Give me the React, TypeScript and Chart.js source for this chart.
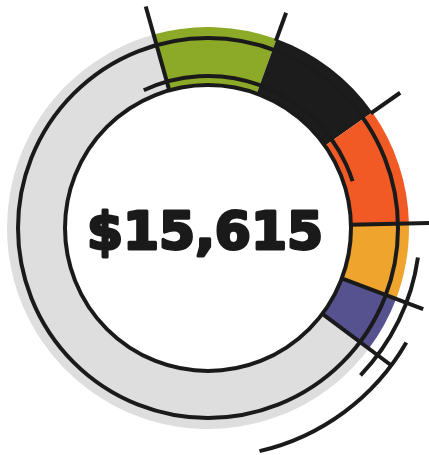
import React, { useEffect, useRef } from "react";
import { Chart, registerables } from "chart.js";

Chart.register(...registerables);

// ---- data ----
const categories = ["Green", "Black", "Red", "Orange", "Purple", "Remaining"];
const values = [9.9, 9.7, 9.4, 6.1, 4.5, 60.4];
const colors = ["#8da928", "#1c1c1c", "#f15a24", "#eea42d", "#55528f", "#dedede"];
const centerLabel = "$15,615";
const startDeg = -15.7;

// decorative ray extents (beyond the outer edge) for each segment start
const rayStartsInside = [true, false, false, true, true, true];
const rayOuterExtra = [29, 28, 34, 40, 29, 27];

const LINE = "#1a1a1a";

const decorPlugin = {
  id: "decor",
  afterDatasetsDraw(chart: any) {
    const meta = chart.getDatasetMeta(0);
    const arcs = meta.data as any[];
    if (!arcs.length) return;
    const { x, y, innerRadius, outerRadius } = arcs[0].getProps(
      ["x", "y", "innerRadius", "outerRadius"],
      true
    );
    const ctx: CanvasRenderingContext2D = chart.ctx;
    const d = (deg: number) => ((deg - 90) * Math.PI) / 180;
    ctx.save();
    ctx.strokeStyle = LINE;
    ctx.lineWidth = 4;
    ctx.lineCap = "butt";
    const arc = (r: number, a1: number, a2: number) => {
      ctx.beginPath();
      ctx.arc(x, y, r, a1, a2);
      ctx.stroke();
    };
    // full circles
    arc(outerRadius - 11, 0, Math.PI * 2);
    arc(innerRadius, 0, Math.PI * 2);
    // partial arcs
    arc(innerRadius + 9, d(-25), d(72));
    arc(outerRadius + 11, d(98), d(134));
    arc(outerRadius + 28, d(120), d(167));
    // radial rays at segment boundaries
    arcs.forEach((el: any, i: number) => {
      const a = el.startAngle;
      const r0 = rayStartsInside[i] ? innerRadius : outerRadius - 2;
      const r1 = outerRadius + rayOuterExtra[i];
      ctx.beginPath();
      ctx.moveTo(x + Math.cos(a) * r0, y + Math.sin(a) * r0);
      ctx.lineTo(x + Math.cos(a) * r1, y + Math.sin(a) * r1);
      ctx.stroke();
    });
    // center label
    ctx.fillStyle = LINE;
    const fam = "'DejaVu Sans', 'Noto Sans', sans-serif";
    let size = 54;
    ctx.font = `bold ${size}px ${fam}`;
    const w = ctx.measureText(centerLabel).width;
    size = size * (236 / w);
    ctx.font = `bold ${size}px ${fam}`;
    ctx.textAlign = "center";
    ctx.textBaseline = "alphabetic";
    ctx.lineJoin = "round";
    ctx.lineWidth = 3;
    ctx.fillText(centerLabel, x - 3, y + 21);
    ctx.strokeText(centerLabel, x - 3, y + 21);
    ctx.restore();
  },
};

export default function App() {
  const ref = useRef<HTMLCanvasElement | null>(null);
  useEffect(() => {
    if (!ref.current) return;
    const chart = new Chart(ref.current, {
      type: "doughnut",
      data: {
        labels: categories,
        datasets: [
          {
            data: values,
            backgroundColor: colors,
            borderWidth: 0,
            hoverOffset: 0,
          },
        ],
      },
      options: {
        responsive: false,
        animation: false,
        rotation: startDeg,
        cutout: 143,
        layout: { padding: { left: 7, right: 20, top: 27, bottom: 26 } },
        plugins: {
          legend: { display: false },
          tooltip: { enabled: false },
        },
      },
      plugins: [decorPlugin],
    });
    return () => chart.destroy();
  }, []);
  return (
    <div style={{ position: "fixed", left: 0, top: 0, width: 429, height: 455, background: "#fff" }}>
      <canvas ref={ref} width={429} height={455} />
    </div>
  );
}
